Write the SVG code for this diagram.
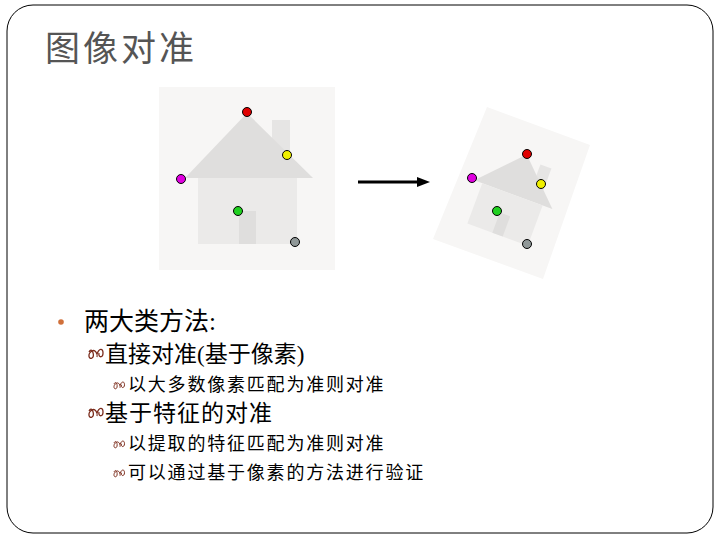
<svg xmlns="http://www.w3.org/2000/svg" width="720" height="540" viewBox="0 0 720 540">
<style>
.t{font-family:"Liberation Serif","Noto Sans CJK SC",serif;fill:#000}
.c{font-family:"Noto Sans CJK SC",sans-serif;fill:#000;letter-spacing:1.8px}
.pt{stroke:#000;stroke-width:1}
.ic{fill:none;stroke:#7a2a1a;stroke-width:1.3}
</style>
<defs>
<g id="icon"><path class="ic" d="M0,0 C3,-6 6,4 3,6 C0,8 -2,2 3,-1 C6,-3 9,2 8,5 M8,2 C10,-4 14,-4 14,1 C14,6 9,6 10,1"/></g>
</defs>
<rect x="7" y="5" width="706" height="528" rx="26" fill="#fff" stroke="#000" stroke-width="1"/>
<text x="45" y="61" font-size="35" fill="#555" letter-spacing="3" style="font-family:'Noto Sans CJK SC',sans-serif">图像对准</text>
<g id="left">
<rect x="159" y="87" width="176" height="183" fill="#f7f6f5"/>
<rect x="272" y="120" width="18" height="35" fill="#e6e5e4"/>
<polygon points="247,113 185,178 313,178" fill="#dfdedd"/>
<rect x="198" y="178" width="99" height="66" fill="#ebeae9"/>
<rect x="239" y="211" width="17" height="33" fill="#dfdedd"/>
<circle class="pt" cx="247" cy="112" r="4.5" fill="#e00000"/>
<circle class="pt" cx="287" cy="155" r="4.5" fill="#f0f000"/>
<circle class="pt" cx="181" cy="179" r="4.5" fill="#e000e0"/>
<circle class="pt" cx="238" cy="211" r="4.5" fill="#20d020"/>
<circle class="pt" cx="295" cy="242" r="4.5" fill="#909898"/>
</g>
<g id="connectors">
<line x1="358" y1="182" x2="418" y2="182" stroke="#000" stroke-width="3"/>
<polygon points="430,182 417,177 417,187" fill="#000"/>
</g>
<g id="right">
<polygon points="487,107 590,145 543,279 433,239" fill="#f7f6f5"/>
<g transform="translate(527,154) rotate(20.3) scale(0.65) translate(-247,-112)">
<rect x="272" y="120" width="18" height="35" fill="#e6e5e4"/>
<polygon points="247,113 185,178 313,178" fill="#dfdedd"/>
<rect x="198" y="178" width="99" height="66" fill="#ebeae9"/>
<rect x="239" y="211" width="17" height="33" fill="#dfdedd"/>
</g>
<circle class="pt" cx="527" cy="154" r="4.5" fill="#e00000"/>
<circle class="pt" cx="541" cy="184" r="4.5" fill="#f0f000"/>
<circle class="pt" cx="472" cy="178" r="4.5" fill="#e000e0"/>
<circle class="pt" cx="497" cy="211" r="4.5" fill="#20d020"/>
<circle class="pt" cx="527" cy="244" r="4.5" fill="#909898"/>
</g>
<g id="text">
<circle cx="61" cy="322" r="2.8" fill="#d0703a"/>
<text class="t" x="84" y="330" font-size="25">两大类方法:</text>
<use href="#icon" transform="translate(89,352)"/>
<text class="t" x="105" y="362" font-size="23">直接对准(基于像素)</text>
<use href="#icon" transform="translate(114,384) scale(0.75)"/>
<text class="c" x="128" y="391" font-size="18">以大多数像素匹配为准则对准</text>
<use href="#icon" transform="translate(89,411)"/>
<text class="t" x="105" y="421" font-size="23" letter-spacing="1">基于特征的对准</text>
<use href="#icon" transform="translate(114,443) scale(0.75)"/>
<text class="c" x="128" y="450" font-size="18">以提取的特征匹配为准则对准</text>
<use href="#icon" transform="translate(114,472) scale(0.75)"/>
<text class="c" x="128" y="479" font-size="18">可以通过基于像素的方法进行验证</text>
</g>
</svg>
